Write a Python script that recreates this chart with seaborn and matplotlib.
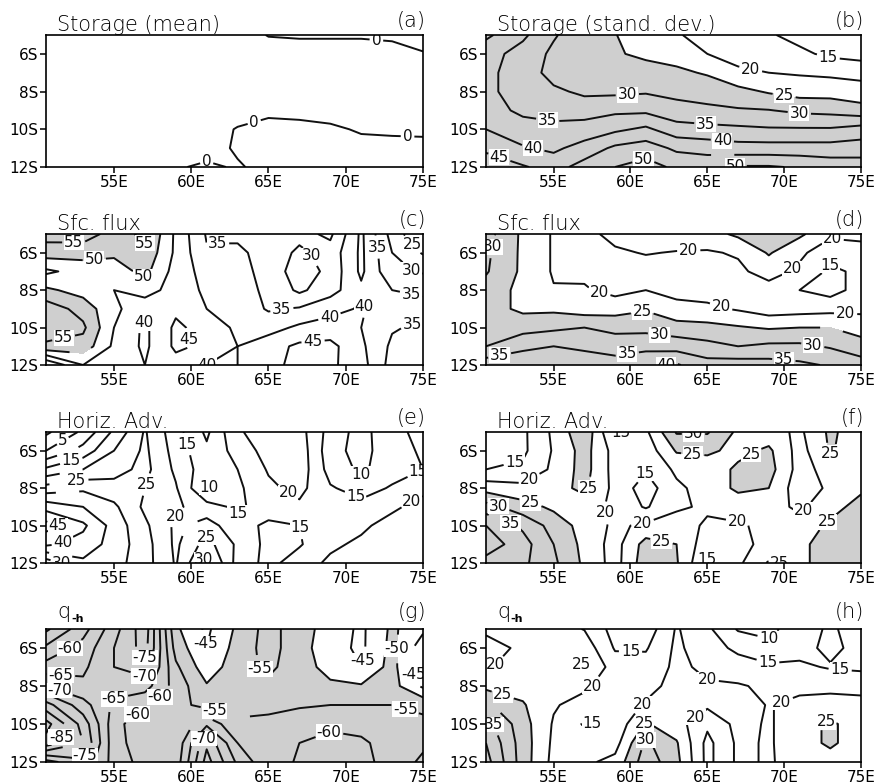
import numpy as np
import matplotlib
matplotlib.use("Agg")
import matplotlib.pyplot as plt
import seaborn as sns

# Grid: longitude (deg E) columns, latitude (deg, negative = S) rows
LON = [50.6, 53, 55, 57, 59, 61, 63, 65, 67, 69, 71, 73, 75]
LAT = [-5, -6, -7, -8, -9, -10, -11, -12]

XTICKS = [55, 60, 65, 70, 75]
XTICK_LABELS = ["55E", "60E", "65E", "70E", "75E"]
YTICKS = [-6, -8, -10, -12]
YTICK_LABELS = ["6S", "8S", "10S", "12S"]

storage_mean = [
    [2, 2, 2, 2, 2, 2, 2, -0.2, -0.5, -0.5, -0.5, -1, -2],
    [2, 2, 2, 2, 2, 2, 2, 2, 2, 2, 2, 2, 0.3],
    [2, 2, 2, 2, 2, 2, 2, 2, 2, 2, 2, 2, 2],
    [2, 2, 2, 2, 2, 2, 2, 2, 2, 2, 2, 2, 2],
    [2, 2, 2, 2, 2, 2, 2, 0.67, 1, 1.9, 2, 2, 2],
    [2, 2, 2, 2, 2, 2, -0.3, -1, -1, -0.8, 0.5, 0.7, 0.8],
    [2, 2, 2, 2, 2, 1.2, -0.4, -1, -1, -1, -1.5, -1.3, -1.2],
    [2, 2, 2, 2, 0.3, -0.5, 0.3, -0.9, -1, -1, -1, -1, -1],
]

storage_std = [
    [41, 36, 30.5, 27, 25.2, 22, 20.5, 18, 16, 15.5, 13.5, 12, 11],
    [37, 33, 29, 27, 25.5, 24, 23, 20, 18, 17.5, 16, 14, 13],
    [36, 33, 28, 27, 27, 27, 26, 24.5, 21, 20, 19.5, 19, 18.5],
    [36, 33, 31, 29, 29, 29.5, 28.5, 28, 26.5, 24.5, 23, 23, 22],
    [37, 34, 33, 33, 34, 34, 32, 31, 30.5, 30.2, 29, 28.5, 27],
    [40, 37, 36.5, 37, 39, 41, 37, 36.5, 36, 35.5, 35.5, 35.5, 37],
    [44, 40.5, 39, 42, 46, 47.5, 44, 43, 42, 42, 42, 42, 42.5],
    [48, 45.5, 43, 47, 50, 52, 49, 48.5, 50.5, 50.5, 49.5, 48, 47.5],
]

sfc_flux_mean = [
    [57, 57.5, 53, 56, 44, 34.5, 34, 33, 31.5, 29, 41, 28, 20],
    [52.5, 52, 51, 54, 44, 35.5, 36, 33, 29, 32, 41, 30, 24.5],
    [44, 47, 47.5, 51.5, 43, 38, 36.5, 33.5, 27, 31.5, 41, 31, 29.5],
    [51, 48, 45, 47, 43, 39, 37, 34, 29, 33, 39, 35, 34],
    [58, 53, 46, 42, 44, 40, 38, 34.5, 35.5, 38.5, 40.5, 37, 37],
    [58, 56, 45, 39, 46, 43, 39, 38, 41, 42, 40, 35.5, 34],
    [54, 53, 44, 39, 46, 44, 40, 43, 46, 46.5, 41, 34, 33],
    [35, 45, 44, 40, 43, 40, 40, 43, 47, 46, 42, 33, 31],
]

sfc_flux_std = [
    [32, 24, 19.5, 19, 21, 22, 22, 23, 26, 27, 26, 21, 22],
    [31, 24, 19.5, 18.5, 19.5, 20.2, 19.8, 19.5, 20.5, 25.5, 21, 17, 17],
    [30.5, 24, 19.5, 19, 18, 18.5, 18.5, 18, 19, 22, 19, 14, 16],
    [28, 23.5, 20.3, 20.5, 18.5, 20, 18.5, 18, 17.5, 18, 15, 13, 17],
    [27, 24, 24, 22.5, 23, 24.5, 21.5, 21, 19.5, 17.5, 18, 18.5, 19],
    [29, 28, 29, 30, 28.5, 28.5, 27, 26.5, 25.5, 24.5, 25, 25, 22.5],
    [30, 34, 35, 34, 33, 33.5, 33, 31.5, 30, 31, 31, 29.5, 27.5],
    [38, 38, 38, 38, 37, 39, 40.5, 37, 37.5, 37, 36, 34.5, 32],
]

horiz_adv_mean = [
    [-1, 6, 16, 25.5, 17, 9, 19.5, 22, 22, 13, 8, 14, 16],
    [5, 12, 20, 26, 18, 11, 17, 22, 23, 12, 8, 13.5, 15.5],
    [16, 20, 23, 26.5, 19, 12, 15, 20.5, 23, 13, 9, 13, 15],
    [27, 29, 27, 25, 20.5, 9.5, 14, 19, 21.5, 15.5, 13, 15.5, 18.5],
    [38, 35, 31, 24, 21, 17, 14, 17.5, 19, 17, 16.5, 19, 22],
    [47, 41, 33, 26, 19, 22, 17, 14, 15, 16.5, 19, 22, 23],
    [41, 38, 33, 27, 19, 27, 19, 13.5, 14.5, 19, 21, 23, 24],
    [27, 34, 32, 27, 19.5, 32, 18, 13.5, 17.5, 21, 23, 24, 25],
]

horiz_adv_std = [
    [12, 14, 21, 29, 14, 19, 30.5, 30.5, 24, 22, 19, 26, 22],
    [12, 14, 20.5, 27, 18, 17, 25.5, 26, 23.5, 26, 18, 25.5, 22],
    [15, 16, 21, 27, 18, 15.5, 21, 22, 26, 27, 18, 22, 21],
    [23, 21.5, 23.5, 26, 18.5, 12.5, 19, 22, 26, 25, 17, 21, 24],
    [32, 27, 24, 23, 18.5, 14.5, 19, 21, 22, 22, 19, 23, 27],
    [40, 34, 28, 23, 19, 21, 23, 19, 19.5, 21, 22, 26, 28],
    [43, 37, 30, 23.5, 18, 27, 25, 17, 18, 22, 24, 27, 27],
    [38, 36, 31, 24, 18, 28, 25.5, 14.5, 19, 25.5, 24, 27, 28],
]

qh_mean = [
    [-49, -58, -68, -78, -51, -44, -51, -57, -52, -48, -44, -51, -46],
    [-56, -62, -70, -77, -53, -45, -52, -57, -52, -47, -44, -51.5, -42],
    [-62, -64, -70, -73, -56, -47, -53, -56, -52.5, -48, -45, -52, -40],
    [-70, -66, -67, -67, -58, -50.5, -52.5, -54, -53, -51, -50.5, -52, -44],
    [-82, -72, -64, -61, -57, -53, -54, -54, -54.5, -55, -55, -55, -54],
    [-92, -78, -62, -56, -55, -64, -55.5, -56, -57.5, -59, -58, -57, -56],
    [-88, -80, -62, -57, -56, -74, -60, -57, -60, -61.5, -61, -57.5, -56],
    [-68, -74, -63, -58, -57, -77, -64, -56, -61, -62, -61.5, -58, -54],
]

qh_std = [
    [21, 22, 22, 19.8, 13, 12, 20.5, 16, 9.5, 9, 12, 16, 12],
    [18, 21, 22.5, 23, 14.5, 14.5, 21, 17, 14, 11, 13, 16.5, 13],
    [19.5, 22, 23, 25.5, 17.5, 17, 21, 19, 17, 16, 16, 14.5, 14],
    [23.5, 23, 22, 21, 17, 18.5, 21.5, 20.5, 20.5, 19, 19, 19, 18.5],
    [31, 25.5, 20.5, 18, 17, 20.5, 22, 21, 21.5, 19.8, 21, 21.5, 21.5],
    [37, 27, 19.5, 14.5, 16.5, 25.5, 22, 16, 21.5, 19.5, 22.5, 26, 22],
    [40, 27.5, 19, 17, 18, 31, 25.5, 13.5, 21, 19.5, 22.5, 26, 22],
    [42, 27.5, 18.5, 19, 21.5, 33, 26.5, 13.5, 21, 19.5, 22, 22.5, 22],
]

TITLES = ["Storage (mean)", "Storage (stand. dev.)", "Sfc. flux", "Sfc. flux",
          "Horiz. Adv.", "Horiz. Adv.", "q", "q"]
SUBSCRIPTS = [None, None, None, None, None, None, "-h", "-h"]
TAGS = ["(a)", "(b)", "(c)", "(d)", "(e)", "(f)", "(g)", "(h)"]
FIELDS = [storage_mean, storage_std, sfc_flux_mean, sfc_flux_std,
          horiz_adv_mean, horiz_adv_std, qh_mean, qh_std]
# shading rule per panel: (side, threshold) or None
SHADE = [None, ("above", 25), ("above", 50), ("above", 25),
         None, ("above", 25), ("below", -50), ("above", 25)]

# where the contour labels go (lon, lat); each snaps to the nearest line
LABEL_SPOTS = [
    [(64, -9.4), (74, -10.4), (61, -11.7), (72, -5.1)],
    [(72.8, -6.4), (67.8, -6.9), (70.0, -8.2), (59.8, -8.2), (71.0, -9.05),
     (54.6, -9.6), (64.9, -9.8), (53.6, -11.2), (66.0, -10.4), (66.0, -11.2),
     (51.4, -11.65), (60.8, -11.45), (66.8, -11.9)],
    [(52.4, -5.55), (56.7, -6.0), (56.9, -7.25), (53.8, -7.25), (61.7, -6.6),
     (67.9, -6.1), (72.0, -5.7), (74.4, -5.5), (74.0, -7.15), (74.2, -8.4),
     (74.2, -9.6), (71.0, -9.0), (65.9, -9.2), (69.0, -9.6), (67.9, -10.9),
     (56.7, -9.6), (59.75, -10.65), (60.6, -11.7), (51.6, -10.0),
     (52.9, -11.1)],
    [(51.15, -5.7), (63.8, -6.1), (70.0, -6.4), (73.1, -5.5), (73.0, -6.5),
     (58.2, -7.4), (66.0, -8.6), (74.0, -9.2), (60.8, -9.3), (73.1, -10.0),
     (61.9, -10.3), (71.9, -10.75), (51.5, -11.55), (59.8, -11.45),
     (70.0, -11.55), (61.9, -11.9)],
    [(51.6, -5.35), (52.0, -6.0), (52.2, -6.45), (52.2, -7.0), (52.6, -7.6),
     (51.6, -7.9), (52.0, -8.3), (51.6, -10.0), (51.6, -10.75),
     (51.6, -11.3), (51.8, -11.7), (56.7, -7.7), (59.9, -5.6), (61.5, -7.7),
     (58.7, -9.4), (59.6, -9.75), (62.8, -9.6), (60.8, -10.5), (60.6, -11.7),
     (65.8, -8.9), (67.8, -10.0), (71.0, -7.25), (70.5, -8.7), (74.0, -8.3),
     (74.6, -7.0)],
    [(52.6, -7.0), (53.6, -7.8), (53.6, -8.5), (51.5, -8.7), (51.6, -9.4),
     (51.6, -10.0), (57.75, -8.15), (58.6, -9.3), (60.8, -7.1), (59.5, -5.1),
     (64.1, -5.3), (64.0, -6.7), (67.9, -6.25), (73.1, -6.25), (71.0, -8.95),
     (60.8, -9.9), (62.1, -10.5), (67.0, -9.6), (65.0, -11.8), (69.9, -11.9),
     (74.1, -11.1)],
    [(52.0, -5.8), (51.6, -6.9), (51.6, -7.9), (54.8, -7.9),
     (56.9, -6.7), (56.9, -7.65), (57.8, -8.45), (57.8, -9.25), (57.8, -10.3),
     (60.8, -5.8), (61.7, -8.8), (62.8, -9.85), (60.6, -9.9), (60.8, -10.75),
     (63.8, -7.65), (71.0, -6.65), (73.3, -6.05), (74.6, -6.65),
     (74.6, -7.3), (74.0, -8.8), (69.0, -10.6), (51.6, -10.7),
     (52.6, -11.1), (53.1, -11.65)],
    [(51.5, -7.1), (51.7, -8.45), (51.0, -9.0), (51.5, -9.9), (56.7, -6.7),
     (57.75, -8.25), (60.0, -6.3), (57.75, -9.6), (61.0, -9.15),
     (60.8, -9.95), (60.9, -10.75), (64.9, -8.1), (64.5, -9.9), (69.0, -5.6),
     (69.0, -6.6), (73.6, -7.65), (70.0, -9.15), (72.7, -9.8)],
]

sns.set_theme(style="ticks")
plt.rcParams["font.family"] = ["DejaVu Sans"]

fig = plt.figure(figsize=(8.75, 7.84), dpi=100)

W, H = 875.0, 784.0
col_left = [46, 486]
col_width = [377, 375]
row_top = [35, 234, 432, 629]
row_bottom = [167, 365, 563, 762]

levels = np.arange(-100, 105, 5)
shade_color = "#cfcfcf"

X, Y = np.meshgrid(LON, LAT)


def drop_overlaps(texts, renderer):
    """Hide labels whose boxes collide with an earlier kept label."""
    kept = []
    for t in texts:
        bb = t.get_window_extent(renderer).expanded(1.02, 1.02)
        if any(bb.overlaps(k) for k in kept):
            t.set_visible(False)
        else:
            kept.append(bb)


renderer = fig.canvas.get_renderer()

for i, (field, title, sub, tag, shade, spots) in enumerate(
        zip(FIELDS, TITLES, SUBSCRIPTS, TAGS, SHADE, LABEL_SPOTS)):
    r, c = divmod(i, 2)
    rect = [col_left[c] / W, 1 - row_bottom[r] / H,
            col_width[c] / W, (row_bottom[r] - row_top[r]) / H]
    ax = fig.add_axes(rect)
    Z = np.array(field, dtype=float)

    ax.set_xlim(50.6, 75)
    ax.set_ylim(-12, -5)

    if shade is not None:
        side, thr = shade
        bounds = [thr, 1000] if side == "above" else [-1000, thr]
        ax.contourf(X, Y, Z, levels=bounds, colors=[shade_color], zorder=1)

    cs = ax.contour(X, Y, Z, levels=levels, colors="#111111",
                    linewidths=1.4, linestyles="solid", zorder=2)
    labels = ax.clabel(cs, inline=True, fontsize=11, fmt="%d",
                       inline_spacing=2, manual=spots)
    for t in labels:
        t.set_rotation(0)
        t.set_bbox(dict(boxstyle="square,pad=0.03", fc="white", ec="none"))
    drop_overlaps(labels, renderer)

    ax.set_xticks(XTICKS)
    ax.set_xticklabels(XTICK_LABELS)
    ax.set_yticks(YTICKS)
    ax.set_yticklabels(YTICK_LABELS)
    ax.tick_params(axis="both", direction="out", length=4, width=1.1,
                   labelsize=11, pad=1.5, colors="black")
    for sp in ax.spines.values():
        sp.set_linewidth(1.2)
        sp.set_color("black")
        sp.set_visible(True)
        sp.set_zorder(5)

    if sub is None:
        ax.text(0.03, 1.03, title, transform=ax.transAxes, ha="left",
                va="baseline", fontsize=15, fontweight="light", color="black")
    else:
        ax.text(0.03, 1.083, title, transform=ax.transAxes, ha="left",
                va="baseline", fontsize=15, fontweight="light", color="black")
        ax.text(0.066, 1.053, sub, transform=ax.transAxes, ha="left",
                va="baseline", fontsize=8, fontweight="bold", color="black")
    ax.text(1.008, 1.063 if sub is None else 1.083, tag,
            transform=ax.transAxes, ha="right", va="baseline", fontsize=15,
            fontweight="light", color="black")

fig.savefig("out.png", dpi=100)
